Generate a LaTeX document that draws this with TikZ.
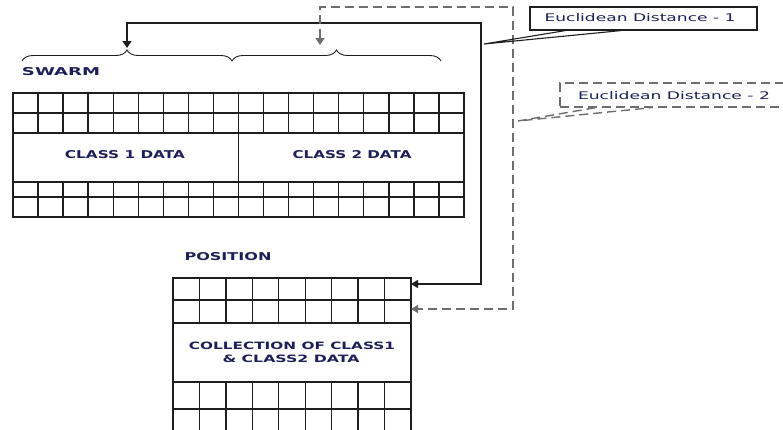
\documentclass[tikz,border=0pt]{standalone}
\usepackage{fontspec}
\usepackage{graphicx}
\setmainfont{DejaVu Sans}
\usetikzlibrary{arrows.meta,decorations.pathreplacing}
\definecolor{txt}{RGB}{30,30,90}
\definecolor{ln}{RGB}{30,30,30}
\definecolor{dsh}{RGB}{110,110,110}
\newcommand{\fitbox}[3]{\resizebox{#1pt}{#2pt}{#3}}
\begin{document}
\begin{tikzpicture}[x=1pt,y=-1pt,
  gridline/.style={draw=ln,line width=1.4pt},
  lbl/.style={text=txt,font=\bfseries,inner sep=0pt},
  elbl/.style={text=txt,inner sep=0pt},
  solidconn/.style={draw=ln,line width=1.4pt,{Triangle[length=7pt,width=9pt]}-{Triangle[length=7pt,width=8pt]}},
  dashconn/.style={draw=dsh,line width=1.7pt,dash pattern=on 9pt off 5pt,{Triangle[length=7pt,width=9pt]}-{Triangle[length=7pt,width=8pt]}},
  bracestyle/.style={draw=ln,line width=0.9pt,decorate,decoration={brace,amplitude=11pt}},
  callout/.style={draw=ln,line width=1.1pt},
  dcallout/.style={draw=dsh,line width=1.4pt,dash pattern=on 9pt off 5pt},
]
\useasboundingbox (0,0) rectangle (783,429);
\begin{scope}
\clip (0,0) rectangle (783,429);

% swarm grid
\draw[gridline] (13,93) rectangle (464,217);
\foreach \y in {113,133,182,197} \draw[gridline] (13,\y) -- (464,\y);
\foreach \i in {1,...,17} {
  \pgfmathsetmacro\xx{13+\i*451/18}
  \draw[gridline] (\xx,93) -- (\xx,133);
  \draw[gridline] (\xx,182) -- (\xx,217);
}
\draw[gridline] (238.5,133) -- (238.5,182);

% position grid
\draw[gridline] (173,440) -- (173,278) -- (411,278) -- (411,440);
\foreach \y in {300,323,382,409} \draw[gridline] (173,\y) -- (411,\y);
\foreach \i in {1,...,8} {
  \pgfmathsetmacro\xx{173+\i*238/9}
  \draw[gridline] (\xx,278) -- (\xx,323);
  \draw[gridline] (\xx,382) -- (\xx,440);
}

% braces
\draw[bracestyle] (22,61) -- (232,61);
\draw[bracestyle] (232,61) -- (441,61);

% texts
\node[lbl] (swarm) at (61,72) {\fitbox{78}{8}{SWARM}};
\node[lbl] (c1d) at (125,155) {\fitbox{120}{8}{CLASS 1 DATA}};
\node[lbl] (c2d) at (352,155) {\fitbox{119}{8}{CLASS 2 DATA}};
\node[lbl] (pos) at (228,257) {\fitbox{87}{8}{POSITION}};
\node[lbl] (coll) at (292,345.5) {\fitbox{206}{7.5}{COLLECTION OF CLASS1}};
\node[lbl] (coll2) at (291,359) {\fitbox{137}{7.5}{\& CLASS2 DATA}};

% connector end points
\coordinate (b1tip) at (127,48);
\coordinate (b2tip) at (320,45);
\coordinate (p1) at (411,284);
\coordinate (p2) at (411,309);
\coordinate (s1) at (481,23);
\coordinate (s2) at (513,7);

\draw[solidconn] (b1tip) |- (s1) |- (p1);
\draw[dashconn] (b2tip) |- (s2) |- (p2);

% callout 1
\node[callout,minimum width=227pt,minimum height=23pt,inner sep=0pt,fill=white] (box1) at (643.5,18.5) {};
\node[elbl] (e1) at (640,17.5) {\fitbox{191}{8}{Euclidean Distance - 1}};
\coordinate (ptr1) at (484,44);
\draw[callout] ([xshift=36pt]box1.south west) -- (ptr1) -- ([xshift=92pt]box1.south west);

% callout 2
\node[dcallout,minimum width=240pt,minimum height=24pt,inner sep=0pt] (box2) at (680,95) {};
\node[elbl] (e2) at (674,95.5) {\fitbox{192}{8}{Euclidean Distance - 2}};
\coordinate (ptr2) at (518,121);
\draw[dcallout] ([xshift=36pt]box2.south west) -- (ptr2) -- ([xshift=92pt]box2.south west);
\end{scope}
\end{tikzpicture}
\end{document}
